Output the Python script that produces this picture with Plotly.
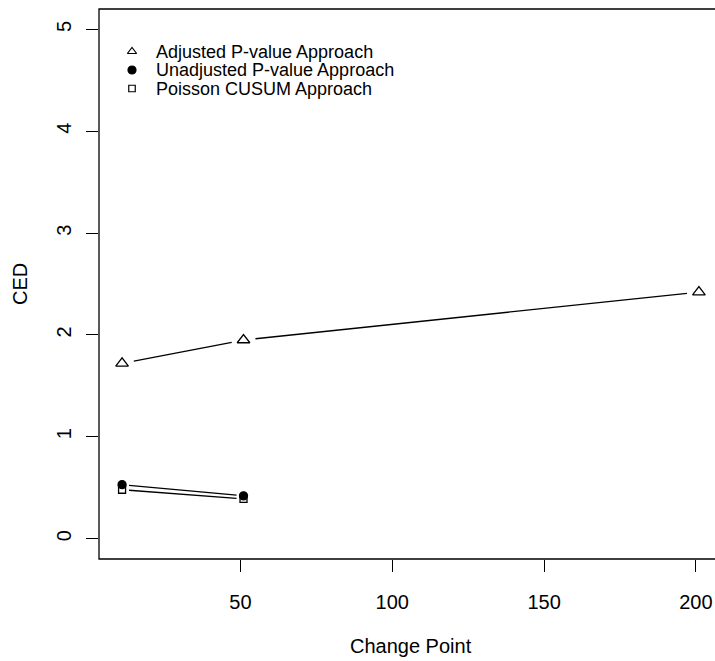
import plotly.graph_objects as go

# Change points and CED values per approach
change_points = [11, 51, 201]
ced_adjusted = [1.72, 1.95, 2.42]
cp_short = [11, 51]
ced_unadjusted = [0.53, 0.42]
ced_poisson = [0.48, 0.39]

series_names = ["Adjusted P-value Approach",
                "Unadjusted P-value Approach",
                "Poisson CUSUM Approach"]

x_ticks = [50, 100, 150, 200]
y_ticks = [0, 1, 2, 3, 4, 5]

# Figure geometry
W, H = 715, 661
ML, MR, MT, MB = 99, 0, 9, 102
X_RANGE = [3.4, 206.3]
Y_RANGE = [-0.2, 5.2]
PW, PH = W - ML - MR, H - MT - MB
SX = PW / (X_RANGE[1] - X_RANGE[0])
SY = PH / (Y_RANGE[1] - Y_RANGE[0])
FULL_PW = 623  # width of the whole plotting region, part of it past the page edge


def gapped_segments(xs, ys, gap):
    """Connect points with segments that stop `gap` pixels short of each point."""
    gx, gy = [], []
    for i in range(len(xs) - 1):
        dx = (xs[i + 1] - xs[i]) * SX
        dy = (ys[i + 1] - ys[i]) * SY
        d = (dx * dx + dy * dy) ** 0.5
        if d <= 2 * gap:
            continue
        f = gap / d
        gx += [xs[i] + (xs[i + 1] - xs[i]) * f, xs[i + 1] - (xs[i + 1] - xs[i]) * f, None]
        gy += [ys[i] + (ys[i + 1] - ys[i]) * f, ys[i + 1] - (ys[i + 1] - ys[i]) * f, None]
    return gx, gy


fig = go.Figure()

line_style = dict(color="black", width=1.3)
series = [
    (change_points, ced_adjusted, "triangle-up-open", 11, 12, 8),
    (cp_short, ced_unadjusted, "circle", 8, 7, 8),
    (cp_short, ced_poisson, "square-open", 7, 7, 6.5),
]

for (xs, ys, sym, size, gap, _), name in zip(series, series_names):
    sx, sy = gapped_segments(xs, ys, gap)
    fig.add_trace(go.Scatter(x=sx, y=sy, mode="lines", line=line_style,
                             showlegend=False, hoverinfo="skip"))
    fig.add_trace(go.Scatter(
        x=xs, y=ys, mode="markers", name=name, showlegend=False,
        marker=dict(symbol=sym, size=size, color="black",
                    line=dict(color="black", width=1.3)),
    ))

# Legend: symbols on an overlay axis in pixel units, labels as text
leg_x_sym = 132
leg_x_txt = 154
leg_y = [51.5, 70, 88.5]
for (xs, ys, sym, size, gap, lsize), name, yy in zip(series, series_names, leg_y):
    fig.add_trace(go.Scatter(
        x=[leg_x_sym], y=[yy], mode="markers", xaxis="x2", yaxis="y2",
        showlegend=False, hoverinfo="skip",
        marker=dict(symbol=sym, size=lsize, color="black",
                    line=dict(color="black", width=1.2)),
    ))
    fig.add_annotation(x=leg_x_txt, y=yy, xref="x2", yref="y2", text=name,
                       showarrow=False, xanchor="left", yanchor="middle",
                       font=dict(size=18, color="black"))

font_family = "Liberation Sans, Arial, sans-serif"

fig.update_layout(
    width=W, height=H,
    margin=dict(l=ML, r=MR, t=MT, b=MB),
    paper_bgcolor="white", plot_bgcolor="white",
    font=dict(family=font_family, size=20, color="black"),
    showlegend=False,
    xaxis=dict(range=X_RANGE, tickvals=x_ticks, ticks="outside", ticklen=12,
               tickwidth=1, tickcolor="black", showgrid=False, zeroline=False,
               showline=False, ticklabelstandoff=13,
               tickfont=dict(size=20)),
    yaxis=dict(range=Y_RANGE, tickvals=y_ticks, ticks="outside", ticklen=12,
               tickwidth=1, tickcolor="black", showgrid=False, zeroline=False,
               showline=False, tickangle=-90, ticklabelstandoff=7,
               tickfont=dict(size=20)),
    xaxis2=dict(range=[ML, W], overlaying="x", visible=False, domain=[0, 1]),
    yaxis2=dict(range=[H - MB, MT], overlaying="y", visible=False),
)

# Plot frame (right side runs past the page edge)
fig.add_shape(type="rect", xref="paper", yref="paper", x0=0, y0=0, x1=1.02, y1=1,
              line=dict(color="black", width=1.3), fillcolor="rgba(0,0,0,0)",
              layer="above")

fig.add_annotation(text="Change Point", xref="paper", yref="paper",
                   x=(FULL_PW / 2) / PW, y=-(646 - (H - MB)) / PH,
                   showarrow=False, xanchor="center", yanchor="middle",
                   font=dict(size=20))
fig.add_annotation(text="CED", xref="paper", yref="paper",
                   x=-(ML - 20) / PW, y=(H - MB - 284) / PH, textangle=-90,
                   showarrow=False, xanchor="center", yanchor="middle",
                   font=dict(size=20))

fig.write_html("out.html")
